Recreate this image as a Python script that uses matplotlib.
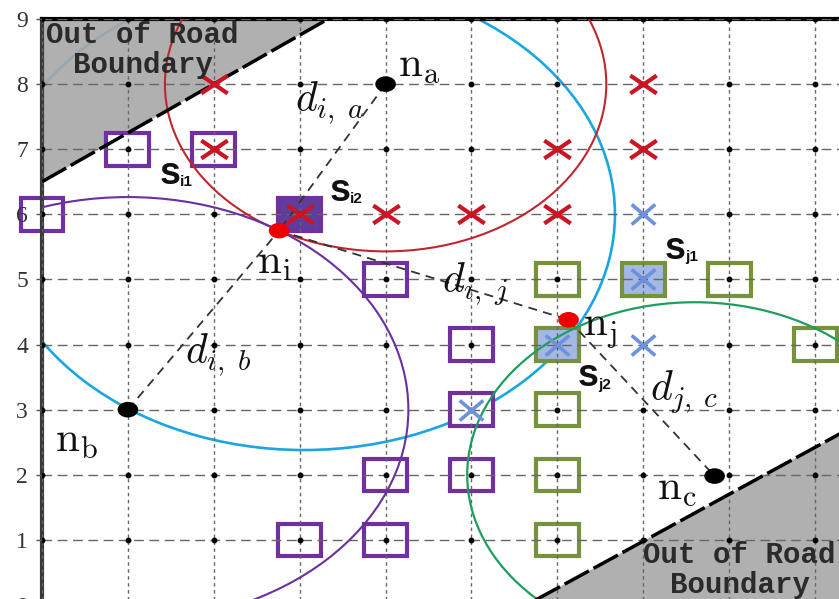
import numpy as np
import matplotlib
matplotlib.use("Agg")
import matplotlib.pyplot as plt
from matplotlib.patches import Ellipse, Rectangle, Polygon
from matplotlib.path import Path

plt.rcParams['mathtext.fontset'] = 'cm'

# ---- node positions -------------------------------------------------------
node_a = (4.0, 8.0)
node_b = (1.0, 3.0)
node_c = (7.83, 1.98)
node_i = (2.76, 5.75)
node_j = (6.13, 4.38)

# ---- candidate slots --------------------------------------------------------
purple_sq_x = [0, 1, 2, 3, 4, 5, 5, 4, 5, 3, 4]
purple_sq_y = [6, 7, 7, 6, 5, 4, 3, 2, 2, 1, 1]
purple_filled = [(3, 6)]

green_sq_x = [6, 7, 8, 6, 9, 6, 6, 6]
green_sq_y = [5, 5, 5, 4, 4, 3, 2, 1]
green_filled = [(7, 5), (6, 4)]

red_x_x = [2, 2, 3, 4, 5, 6, 6, 7, 7]
red_x_y = [8, 7, 6, 6, 6, 6, 7, 7, 8]

blue_x_x = [7, 7, 7, 6, 5]
blue_x_y = [6, 5, 4, 4, 3]

# ---- range circles ------------------------------------------------------------
cyan_center = (3.05, 6.0)
cyan_radius = 3.62
green_center = (7.6, 2.0)
green_radius = 2.65

# ---- road boundaries ---------------------------------------------------------
boundary_tl_x = [0.0, 3.33]
boundary_tl_y = [6.5, 9.0]
boundary_br_x = [5.64, 9.4]
boundary_br_y = [0.0, 2.71]

y_ticks = [0, 1, 2, 3, 4, 5, 6, 7, 8, 9]
x_grid = [0, 1, 2, 3, 4, 5, 6, 7, 8, 9]

PURPLE = '#7030A0'
GREEN = '#76923C'
RED = '#CC1424'
BLUE = '#6E91DC'

fig = plt.figure(figsize=(8.39, 5.99), dpi=100)
ax = fig.add_axes([42 / 839, -6 / 599, 797 / 839, 586 / 599])
ax.set_xlim(0, 797 / 85.9)
ax.set_ylim(0, 9)

# grid
ax.set_axisbelow(False)
ax.set_xticks(x_grid)
ax.set_yticks(y_ticks)
ax.xaxis.grid(True, linestyle=(0, (2.5, 2.5)), color='#666666', lw=1.0)
ax.yaxis.grid(True, linestyle=(0, (7, 4)), color='#666666', lw=1.0)
gx, gy = np.meshgrid(x_grid, y_ticks)
ax.plot(gx.ravel(), gy.ravel(), 'o', ms=3.2, color='black', zorder=4)

ax.tick_params(axis='x', length=0, labelbottom=False)
ax.tick_params(axis='y', length=4, width=1, color='#555555', pad=6, labelsize=17)
for lab in ax.get_yticklabels():
    lab.set_fontfamily('Liberation Serif')
    lab.set_color('#333333')

for side in ('right', 'bottom'):
    ax.spines[side].set_visible(False)
ax.spines['left'].set_color('#3a3a3a')
ax.spines['left'].set_linewidth(3)
ax.spines['top'].set_color('black')
ax.spines['top'].set_linewidth(3)

# out-of-road regions
ax.add_patch(Polygon([(boundary_tl_x[0], boundary_tl_y[0]),
                      (boundary_tl_x[1], boundary_tl_y[1]),
                      (boundary_tl_x[0], boundary_tl_y[1])],
                     closed=True, facecolor='#a8a8a8', edgecolor='none',
                     alpha=0.9, zorder=1))
ax.add_patch(Polygon([(boundary_br_x[0], boundary_br_y[0]),
                      (boundary_br_x[1], boundary_br_y[1]),
                      (boundary_br_x[1], boundary_br_y[0])],
                     closed=True, facecolor='#a8a8a8', edgecolor='none',
                     alpha=0.9, zorder=1))
for bx, by in ((boundary_tl_x, boundary_tl_y), (boundary_br_x, boundary_br_y)):
    ax.plot(bx, by, color='black', lw=2.5, linestyle=(0, (8, 1.5)), zorder=3.5)

ax.text(1.17, 8.52, 'Out of Road\nBoundary', fontfamily='Liberation Mono',
        fontsize=21, fontweight='bold', ha='center', va='center',
        linespacing=1.1, color='#2a2a2a', zorder=6)
ax.text(8.12, 0.54, 'Out of Road\nBoundary', fontfamily='Liberation Mono',
        fontsize=21, fontweight='bold', ha='center', va='center',
        linespacing=1.1, color='#2a2a2a', zorder=6)

# range circles
r_a = np.hypot(node_i[0] - node_a[0], node_i[1] - node_a[1])
r_b = np.hypot(node_i[0] - node_b[0], node_i[1] - node_b[1])
ax.add_patch(Ellipse(cyan_center, 2 * cyan_radius, 2 * cyan_radius, fill=False,
                     edgecolor='#1AA7E0', lw=1.9, zorder=0.9))
ax.add_patch(Ellipse(node_a, 2 * r_a, 2 * r_a, fill=False,
                     edgecolor='#C0272D', lw=1.5, zorder=3))
ax.add_patch(Ellipse(node_b, 2 * r_b, 2 * r_b, fill=False,
                     edgecolor='#6A2FA0', lw=1.5, zorder=3))
ax.add_patch(Ellipse(green_center, 2 * green_radius, 2 * green_radius, fill=False,
                     edgecolor='#1E9E5E', lw=1.6, zorder=3))

# candidate squares
half = 0.25
for x, y in zip(purple_sq_x, purple_sq_y):
    face = '#5E3D9C' if (x, y) in purple_filled else 'white'
    ax.add_patch(Rectangle((x - half, y - half), 2 * half, 2 * half,
                           facecolor=face, edgecolor=PURPLE, lw=3,
                           zorder=2, clip_on=False))
for x, y in zip(green_sq_x, green_sq_y):
    face = '#A3B8E4' if (x, y) in green_filled else 'white'
    ax.add_patch(Rectangle((x - half, y - half), 2 * half, 2 * half,
                           facecolor=face, edgecolor=GREEN, lw=3,
                           zorder=2, clip_on=False))

# connecting distances
for p, q in ((node_a, node_i), (node_b, node_i), (node_i, node_j), (node_j, node_c)):
    ax.plot([p[0], q[0]], [p[1], q[1]], color='#333333', lw=1.3,
            linestyle=(0, (5, 3.5)), zorder=4)

# cross markers (slightly wide)
def wide_cross(aspect):
    verts = [(-1, -aspect), (1, aspect), (-1, aspect), (1, -aspect)]
    codes = [Path.MOVETO, Path.LINETO, Path.MOVETO, Path.LINETO]
    return Path(verts, codes)

ax.plot(red_x_x, red_x_y, linestyle='none', marker=wide_cross(0.68),
        ms=19, mew=3.0, color=RED, zorder=5)
ax.plot(blue_x_x, blue_x_y, linestyle='none', marker=wide_cross(0.85),
        ms=17, mew=2.6, color=BLUE, zorder=5)

# nodes
for p in (node_a, node_b, node_c):
    ax.add_patch(Ellipse(p, 0.24, 0.24, facecolor='black', edgecolor='none', zorder=6))
for p in (node_i, node_j):
    ax.add_patch(Ellipse(p, 0.24, 0.24, facecolor='#EE0000', edgecolor='none', zorder=6))

# node labels
node_labels = [(4.15, 8.3, r'$\mathrm{n}_{\mathrm{a}}$'),
               (0.15, 2.53, r'$\mathrm{n}_{\mathrm{b}}$'),
               (7.16, 1.80, r'$\mathrm{n}_{\mathrm{c}}$'),
               (2.50, 5.27, r'$\mathrm{n}_{\mathrm{i}}$'),
               (6.30, 4.22, r'$\mathrm{n}_{\mathrm{j}}$')]
for x, y, s in node_labels:
    ax.text(x, y, s, fontsize=31, ha='left', va='center', color='#111111', zorder=7)

# distance labels
dist_labels = [(2.95, 7.71, r'$d_{i,\;a}$'),
               (1.67, 3.84, r'$d_{i,\;b}$'),
               (4.66, 4.93, r'$d_{i,\;j}$'),
               (7.08, 3.27, r'$d_{j,\;c}$')]
for x, y, s in dist_labels:
    ax.text(x, y, s, fontsize=30, ha='left', va='center', color='#111111', zorder=7)

# slot labels: bold "s" with a small bold subscript
slot_labels = [(1.37, 6.62, 'i1'),
               (3.35, 6.36, 'i2'),
               (7.25, 5.47, 'j1'),
               (6.24, 3.51, 'j2')]
for x, y, sub in slot_labels:
    ax.text(x, y, 's', fontsize=27, fontfamily='Liberation Sans', fontweight='bold',
            ha='left', va='center', color='#111111', zorder=7)
    ax.annotate(sub, xy=(x, y), xytext=(14.5, -6), textcoords='offset points',
                fontsize=11, fontfamily='Liberation Sans', fontweight='bold',
                ha='left', va='center', color='#111111', zorder=7)

fig.savefig('out.png', dpi=100)
